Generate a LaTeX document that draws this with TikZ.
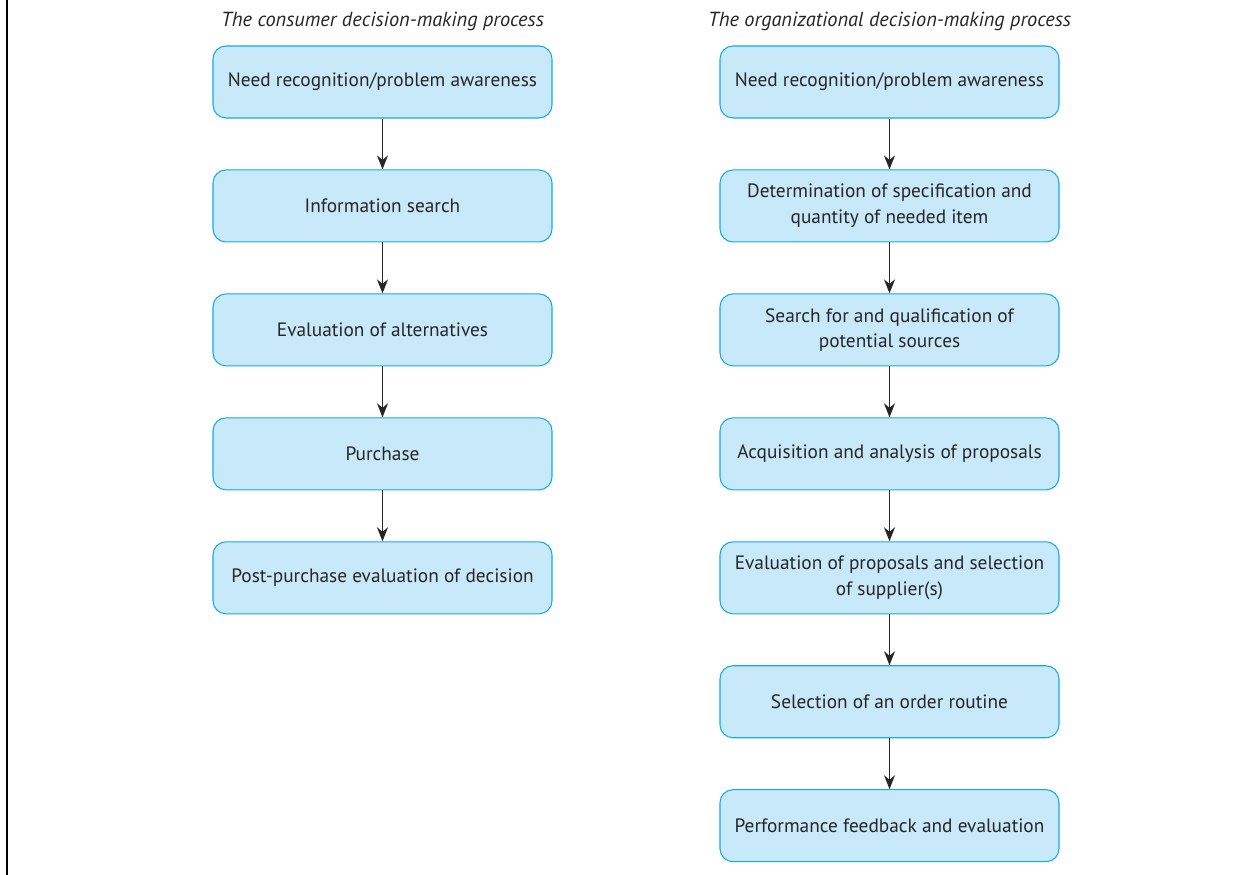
\documentclass[tikz,border=0pt]{standalone}
\usepackage{fontspec}
\setmainfont{PT Sans}
\usepackage{tikz}
\usetikzlibrary{arrows.meta, positioning}

\definecolor{boxfill}{RGB}{199,233,249}
\definecolor{boxline}{RGB}{20,170,230}

\begin{document}
\begin{tikzpicture}[
            node distance=1.018cm,
            box/.style={draw=boxline, rounded corners=0.26cm, fill=boxfill,
                    minimum width=6.78cm, minimum height=1.44cm, text=black!85,
                    align=center, font=\fontsize{11}{14.6}\selectfont, line width=0.6pt},
            head/.style={font=\fontsize{11.6}{13}\selectfont\itshape, text=black!85},
            arr/.style={-{Stealth[length=2.8mm, width=2.2mm]}, line width=1pt, black!85}]
        \useasboundingbox (0,0) rectangle (24.82,17.5);
        \draw[line width=0.9pt] (0.14,0) -- (0.14,17.5);
        % consumer
        \node[head] (chead) at (7.65,17.07) {The consumer decision-making process};
        \node[box] (c1) at (7.65,15.86) {Need recognition/problem awareness};
        \node[box, below=of c1] (c2) {Information search};
        \node[box, below=of c2] (c3) {Evaluation of alternatives};
        \node[box, below=of c3] (c4) {Purchase};
        \node[box, below=of c4] (c5) {Post-purchase evaluation of decision};
        \foreach \a/\b in {c1/c2, c2/c3, c3/c4, c4/c5}
            \draw[arr] (\a) -- (\b);
        % organizational
        \node[head] (ohead) at (17.79,17.07) {The organizational decision-making process};
        \node[box] (o1) at (17.79,15.86) {Need recognition/problem awareness};
        \node[box, below=of o1] (o2) {Determination of specification and\\quantity of needed item};
        \node[box, below=of o2] (o3) {Search for and qualification of\\potential sources};
        \node[box, below=of o3] (o4) {Acquisition and analysis of proposals};
        \node[box, below=of o4] (o5) {Evaluation of proposals and selection\\of supplier(s)};
        \node[box, below=of o5] (o6) {Selection of an order routine};
        \node[box, below=of o6] (o7) {Performance feedback and evaluation};
        \foreach \a/\b in {o1/o2, o2/o3, o3/o4, o4/o5, o5/o6, o6/o7}
            \draw[arr] (\a) -- (\b);
    \end{tikzpicture}
\end{document}
